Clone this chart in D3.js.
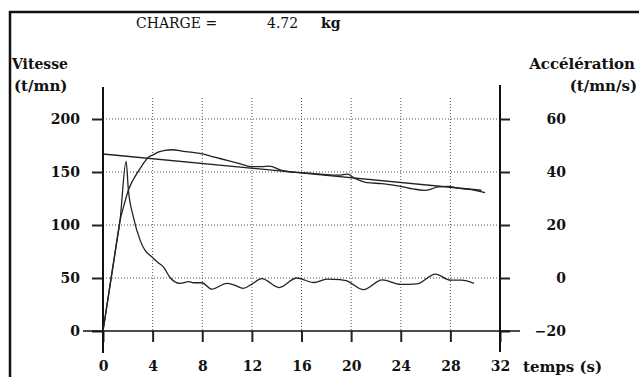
<!DOCTYPE html>
<html>
<head>
<meta charset="utf-8">
<script src="https://cdn.jsdelivr.net/npm/d3@7"></script>
<style>
  body { margin: 0; background: #fff; }
  svg { display: block; }
  .lbl { font-family: "DejaVu Serif", serif; font-weight: bold; fill: #111; }
  .tick text { font-family: "DejaVu Serif", serif; font-weight: bold; font-size: 14px; fill: #111; }
</style>
</head>
<body>
<script>
// temps (s) / vitesse (t/mn) - measured curve
var speedT = [0, 0.5, 1.0, 1.37, 1.7, 2.05, 2.4, 2.7, 3.2, 3.66, 4.0, 4.5, 5.0, 5.55, 6.5, 7.5, 8.0, 9.0, 10.0, 11.0, 12.0, 12.8, 13.4, 14.4, 15.2, 16, 17, 18, 19, 19.7, 20.3, 21.3, 22.5, 24, 25, 25.9, 26.5, 27, 27.8, 28.5, 29.7, 30.8];
var speedV = [0, 38, 76, 104, 119, 133, 142, 148, 157, 164, 166, 169, 170.5, 171, 169.5, 168, 167, 164, 161, 158, 155, 155, 155.5, 151.5, 150, 149.5, 148.5, 147.5, 147, 148, 144, 140, 139, 136.5, 134, 132.7, 134, 136, 136.5, 135, 133.3, 130.5];

// straight reference line (vitesse)
var refT = [0, 30.5];
var refV = [167, 132.8];

// acceleration (t/mn/s), right axis
var accT = [0, 0.5, 1.0, 1.37, 1.86, 2.05, 2.45, 2.99, 3.39, 3.93, 4.47, 4.87, 5.4, 6.2, 6.9, 7.3, 7.97, 8.77, 9.98, 10.6, 11.3, 12.0, 12.8, 14.2, 15.6, 17.0, 18.05, 19.1, 19.6, 21.0, 22.5, 24.0, 25.3, 26.8, 28.0, 28.9, 29.9];
var accA = [-20, -4.8, 10.4, 21.6, 44, 33, 23, 14.3, 10.4, 8, 5.7, 4.2, 0.2, -2.0, -1.4, -1.8, -1.8, -4.2, -2.0, -2.7, -3.9, -2.3, -0.2, -3.6, 0, -1.7, -0.4, -0.6, -1.0, -4.4, -0.7, -2.4, -2.2, 1.5, -0.8, -0.8, -2.0];

var xTicks = [0, 4, 8, 12, 16, 20, 24, 28, 32];
var leftTicks = [0, 50, 100, 150, 200];
var rightTicks = [-20, 0, 20, 40, 60];

var w = 639, h = 377;
var svg = d3.select("body").append("svg").attr("width", w).attr("height", h);

var x = d3.scaleLinear().domain([0, 32]).range([103, 500]);
var yL = d3.scaleLinear().domain([0, 200]).range([331, 119]);
var yR = d3.scaleLinear().domain([-20, 60]).range([331, 119]);

// frame
svg.append("path")
  .attr("d", "M10," + h + "V12H" + w)
  .attr("fill", "none").attr("stroke", "#111").attr("stroke-width", 2.5);

// grid
svg.append("g").selectAll("line")
  .data(xTicks.slice(1, -1))
  .enter().append("line")
  .attr("x1", function(d) { return x(d); })
  .attr("x2", function(d) { return x(d); })
  .attr("y1", 98).attr("y2", yL(0))
  .attr("stroke", "#555").attr("stroke-width", 1).attr("stroke-dasharray", "1,2");

svg.append("g").selectAll("line")
  .data(leftTicks.slice(1))
  .enter().append("line")
  .attr("x1", x(0)).attr("x2", x(32))
  .attr("y1", function(d) { return yL(d); })
  .attr("y2", function(d) { return yL(d); })
  .attr("stroke", "#555").attr("stroke-width", 1).attr("stroke-dasharray", "1,2");

// axes
var bottomAxis = d3.axisBottom(x).tickValues(xTicks).tickSize(11).tickPadding(19).tickSizeOuter(0);
var gx = svg.append("g").attr("transform", "translate(0," + yL(0) + ")").call(bottomAxis);
gx.select(".domain").remove();

var leftAxis = d3.axisLeft(yL).tickValues(leftTicks).tickSize(11).tickPadding(12).tickSizeOuter(0);
var gl = svg.append("g").attr("transform", "translate(" + x(0) + ",0)").call(leftAxis);
gl.select(".domain").remove();

var rightAxis = d3.axisRight(yR).tickValues(rightTicks).tickSize(10).tickSizeOuter(0);
var gr = svg.append("g").attr("transform", "translate(" + x(32) + ",0)").call(rightAxis);
gr.select(".domain").remove();
gr.selectAll("text").attr("text-anchor", "end").attr("x", 66);

svg.selectAll(".tick line").attr("stroke", "#222").attr("stroke-width", 2);

// axis lines
svg.append("line").attr("x1", 83).attr("x2", 520).attr("y1", yL(0)).attr("y2", yL(0))
  .attr("stroke", "#111").attr("stroke-width", 1.6);
svg.append("line").attr("x1", x(0)).attr("x2", x(0)).attr("y1", 87).attr("y2", 353)
  .attr("stroke", "#111").attr("stroke-width", 2);
svg.append("line").attr("x1", x(32)).attr("x2", x(32)).attr("y1", 85).attr("y2", 352)
  .attr("stroke", "#111").attr("stroke-width", 2);

// curves
var lineL = d3.line()
  .x(function(d) { return x(d[0]); })
  .y(function(d) { return yL(d[1]); })
  .curve(d3.curveMonotoneX);
var lineR = d3.line()
  .x(function(d) { return x(d[0]); })
  .y(function(d) { return yR(d[1]); })
  .curve(d3.curveMonotoneX);

svg.append("path").datum(d3.zip(refT, refV)).attr("d", lineL)
  .attr("fill", "none").attr("stroke", "#222").attr("stroke-width", 1.3);
svg.append("path").datum(d3.zip(speedT, speedV)).attr("d", lineL)
  .attr("fill", "none").attr("stroke", "#222").attr("stroke-width", 1.3);
svg.append("path").datum(d3.zip(accT, accA)).attr("d", lineR)
  .attr("fill", "none").attr("stroke", "#222").attr("stroke-width", 1.3);

// labels
svg.append("text").attr("class", "lbl").attr("x", 136).attr("y", 28).style("font-size", "14px").style("font-weight", "normal").text("CHARGE =");
svg.append("text").attr("class", "lbl").attr("x", 267).attr("y", 28).style("font-size", "14px").style("font-weight", "normal").text("4.72");
svg.append("text").attr("class", "lbl").attr("x", 321).attr("y", 28).style("font-size", "14px").text("kg");

svg.append("text").attr("class", "lbl").attr("x", 12).attr("y", 69).style("font-size", "14px").text("Vitesse");
svg.append("text").attr("class", "lbl").attr("x", 14).attr("y", 91).style("font-size", "15px").text("(t/mn)");
svg.append("text").attr("class", "lbl").attr("x", 635).attr("y", 69).attr("text-anchor", "end").style("font-size", "15px").text("Accélération");
svg.append("text").attr("class", "lbl").attr("x", 637).attr("y", 91).attr("text-anchor", "end").style("font-size", "15px").text("(t/mn/s)");
svg.append("text").attr("class", "lbl").attr("x", 523).attr("y", 372).style("font-size", "15px").text("temps (s)");
</script>
</body>
</html>
